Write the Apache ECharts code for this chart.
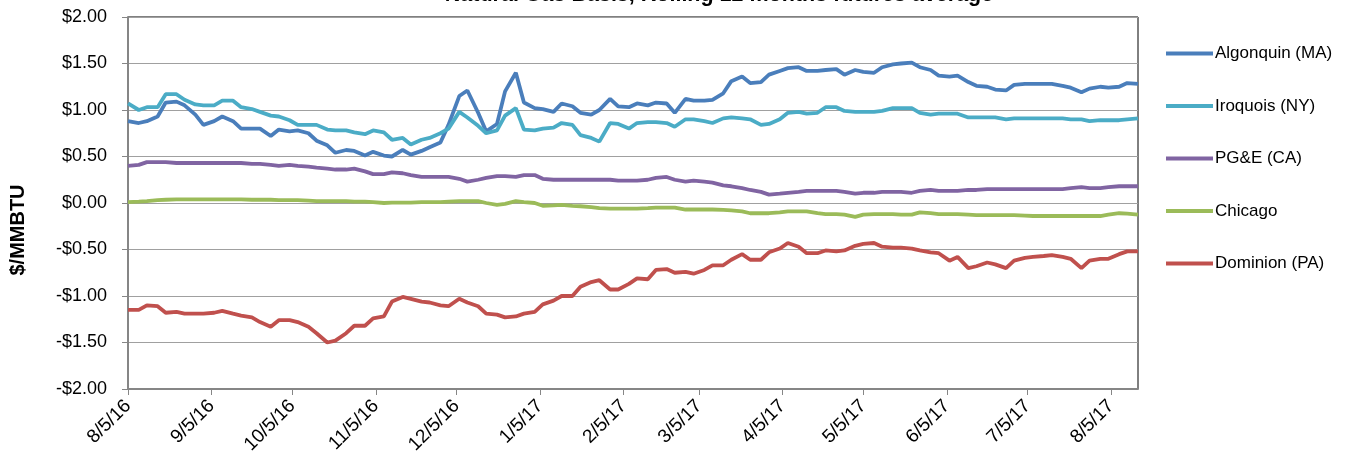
<!DOCTYPE html>
<html>
<head>
<meta charset="utf-8">
<script src="https://cdn.jsdelivr.net/npm/echarts@6/dist/echarts.min.js"></script>
<style>
html,body{margin:0;padding:0;background:#fff;}
#chart{width:1367px;height:467px;}
</style>
</head>
<body>
<div id="chart"></div>
<script>
const dates = [
'2016-08-05','2016-08-09','2016-08-12','2016-08-16','2016-08-19','2016-08-23','2016-08-26','2016-08-30',
'2016-09-02','2016-09-06','2016-09-09','2016-09-13','2016-09-16','2016-09-20','2016-09-23','2016-09-27','2016-09-30',
'2016-10-04','2016-10-07','2016-10-11','2016-10-14','2016-10-18','2016-10-21','2016-10-25','2016-10-28',
'2016-11-01','2016-11-04','2016-11-08','2016-11-11','2016-11-15','2016-11-18','2016-11-22','2016-11-25','2016-11-29',
'2016-12-02','2016-12-06','2016-12-09','2016-12-13','2016-12-16','2016-12-20','2016-12-23','2016-12-27','2016-12-30',
'2017-01-03','2017-01-06','2017-01-10','2017-01-13','2017-01-17','2017-01-20','2017-01-24','2017-01-27','2017-01-31',
'2017-02-03','2017-02-07','2017-02-10','2017-02-14','2017-02-17','2017-02-21','2017-02-24','2017-02-28',
'2017-03-03','2017-03-07','2017-03-10','2017-03-14','2017-03-17','2017-03-21','2017-03-24','2017-03-28','2017-03-31',
'2017-04-04','2017-04-07','2017-04-11','2017-04-14','2017-04-18','2017-04-21','2017-04-25','2017-04-28',
'2017-05-02','2017-05-05','2017-05-09','2017-05-12','2017-05-16','2017-05-19','2017-05-23','2017-05-26','2017-05-30',
'2017-06-02','2017-06-06','2017-06-09','2017-06-13','2017-06-16','2017-06-20','2017-06-23','2017-06-27','2017-06-30',
'2017-07-04','2017-07-07','2017-07-11','2017-07-14','2017-07-18','2017-07-21','2017-07-25','2017-07-28',
'2017-08-01','2017-08-04','2017-08-08','2017-08-11','2017-08-15'
];

const algonquin = [
0.88,0.86,0.88,0.93,1.08,1.09,1.05,0.95,
0.84,0.88,0.93,0.88,0.80,0.80,0.80,0.72,0.79,
0.77,0.78,0.75,0.67,0.62,0.54,0.57,0.56,
0.51,0.55,0.51,0.50,0.57,0.52,0.56,0.60,0.65,
0.84,1.15,1.21,0.97,0.77,0.85,1.20,1.40,1.08,
1.02,1.01,0.98,1.07,1.04,0.97,0.95,1.00,1.12,
1.04,1.03,1.07,1.05,1.08,1.07,0.97,1.12,
1.10,1.10,1.11,1.18,1.31,1.36,1.29,1.30,1.38,
1.42,1.45,1.46,1.42,1.42,1.43,1.44,1.38,
1.43,1.41,1.40,1.46,1.49,1.50,1.51,1.46,1.43,
1.37,1.36,1.37,1.30,1.26,1.25,1.22,1.21,1.27,
1.28,1.28,1.28,1.28,1.26,1.24,1.19,1.23,
1.25,1.24,1.25,1.29,1.28
];

const iroquois = [
1.07,1.00,1.03,1.03,1.17,1.17,1.11,1.06,
1.05,1.05,1.10,1.10,1.03,1.01,0.98,0.94,0.93,
0.89,0.84,0.84,0.84,0.79,0.78,0.78,0.76,
0.74,0.78,0.76,0.68,0.70,0.63,0.68,0.70,0.75,
0.80,0.98,0.92,0.83,0.75,0.78,0.94,1.02,0.79,
0.78,0.80,0.81,0.86,0.84,0.73,0.70,0.66,0.86,
0.85,0.80,0.86,0.87,0.87,0.86,0.82,0.90,
0.90,0.88,0.86,0.91,0.92,0.91,0.90,0.84,0.85,
0.90,0.97,0.98,0.96,0.97,1.03,1.03,0.99,
0.98,0.98,0.98,0.99,1.02,1.02,1.02,0.97,0.95,
0.96,0.96,0.96,0.92,0.92,0.92,0.92,0.90,0.91,
0.91,0.91,0.91,0.91,0.91,0.90,0.90,0.88,
0.89,0.89,0.89,0.90,0.91
];

const pge = [
0.40,0.41,0.44,0.44,0.44,0.43,0.43,0.43,
0.43,0.43,0.43,0.43,0.43,0.42,0.42,0.41,0.40,
0.41,0.40,0.39,0.38,0.37,0.36,0.36,0.37,
0.34,0.31,0.31,0.33,0.32,0.30,0.28,0.28,0.28,
0.28,0.26,0.23,0.25,0.27,0.29,0.29,0.28,0.30,
0.30,0.26,0.25,0.25,0.25,0.25,0.25,0.25,0.25,
0.24,0.24,0.24,0.25,0.27,0.28,0.25,0.23,
0.24,0.23,0.22,0.19,0.18,0.16,0.14,0.12,0.09,
0.10,0.11,0.12,0.13,0.13,0.13,0.13,0.12,
0.10,0.11,0.11,0.12,0.12,0.12,0.11,0.13,0.14,
0.13,0.13,0.13,0.14,0.14,0.15,0.15,0.15,0.15,
0.15,0.15,0.15,0.15,0.15,0.16,0.17,0.16,
0.16,0.17,0.18,0.18,0.18
];

const chicago = [
0.01,0.015,0.02,0.03,0.035,0.04,0.04,0.04,
0.04,0.04,0.04,0.04,0.04,0.035,0.035,0.035,0.03,
0.03,0.03,0.025,0.02,0.02,0.02,0.02,0.015,
0.015,0.01,0.0,0.005,0.005,0.005,0.01,0.01,0.01,
0.015,0.02,0.02,0.02,0.0,-0.02,-0.01,0.02,0.01,
0.0,-0.03,-0.025,-0.02,-0.03,-0.035,-0.045,-0.055,-0.06,
-0.06,-0.06,-0.06,-0.055,-0.05,-0.05,-0.05,-0.07,
-0.07,-0.07,-0.07,-0.075,-0.08,-0.09,-0.11,-0.11,-0.11,
-0.10,-0.09,-0.09,-0.09,-0.11,-0.12,-0.12,-0.125,
-0.15,-0.125,-0.12,-0.12,-0.12,-0.125,-0.125,-0.10,-0.11,
-0.12,-0.12,-0.12,-0.125,-0.13,-0.13,-0.13,-0.13,-0.13,
-0.135,-0.14,-0.14,-0.14,-0.14,-0.14,-0.14,-0.14,
-0.14,-0.125,-0.11,-0.115,-0.125
];

const dominion = [
-1.15,-1.15,-1.10,-1.11,-1.18,-1.17,-1.19,-1.19,
-1.19,-1.18,-1.16,-1.19,-1.21,-1.23,-1.28,-1.33,-1.26,
-1.26,-1.28,-1.33,-1.40,-1.50,-1.48,-1.40,-1.32,
-1.32,-1.24,-1.22,-1.06,-1.01,-1.03,-1.06,-1.07,-1.10,
-1.11,-1.03,-1.07,-1.11,-1.19,-1.20,-1.23,-1.22,-1.19,
-1.17,-1.09,-1.05,-1.00,-1.00,-0.90,-0.85,-0.83,-0.93,
-0.93,-0.87,-0.81,-0.82,-0.72,-0.71,-0.75,-0.74,
-0.76,-0.72,-0.67,-0.67,-0.61,-0.55,-0.61,-0.61,-0.53,
-0.49,-0.43,-0.47,-0.54,-0.54,-0.51,-0.52,-0.51,
-0.46,-0.44,-0.43,-0.47,-0.48,-0.48,-0.49,-0.51,-0.53,
-0.54,-0.62,-0.58,-0.70,-0.68,-0.64,-0.66,-0.70,-0.62,
-0.59,-0.58,-0.57,-0.56,-0.58,-0.60,-0.70,-0.62,
-0.60,-0.60,-0.55,-0.52,-0.52
];

const seriesNames = ['Algonquin (MA)','Iroquois (NY)','PG&E (CA)','Chicago','Dominion (PA)'];
const seriesColors = ['#4a7ebb','#4bacc6','#8064a2','#9bbb59','#c0504d'];
const seriesValues = [algonquin, iroquois, pge, chicago, dominion];

const titleText = 'Natural Gas Basis, Rolling 12 months futures average';
const yAxisTitle = '$/MMBTU';
const tickDates = ['2016-08-05','2016-09-05','2016-10-05','2016-11-05','2016-12-05','2017-01-05','2017-02-05',
'2017-03-05','2017-04-05','2017-05-05','2017-06-05','2017-07-05','2017-08-05'];
const axisStart = '2016-08-05';
const axisEnd = '2017-08-15';

function ts(s){ const p = s.split('-'); return Date.UTC(+p[0], +p[1]-1, +p[2]); }
const tickTs = tickDates.map(ts);

const font = "'Liberation Sans', Arial, sans-serif";
const chart = echarts.init(document.getElementById('chart'), null, {renderer:'canvas'});
chart.setOption({
  animation:false,
  backgroundColor:'#fff',
  title:{text:titleText, left:714, textAlign:'center', top:-21,
    textStyle:{fontFamily:font, fontWeight:'bold', fontSize:21.5, color:'#000'}},
  grid:{left:128, right:229, top:17, bottom:78, show:true, borderColor:'#000', borderWidth:1},
  legend:{orient:'vertical', left:1161, top:40, itemGap:35.5, itemWidth:47, itemHeight:4, icon:'rect',
    textStyle:{fontFamily:font, fontSize:17, color:'#000', padding:[0,0,0,-3]},
    data:seriesNames},
  graphic:[{type:'text', x:8, y:230, rotation:Math.PI/2,
    style:{text:yAxisTitle, fontFamily:font, fontWeight:'bold', fontSize:20, fill:'#000', align:'center', verticalAlign:'top'}}],
  xAxis:{type:'value', min:ts(axisStart), max:ts(axisEnd),
    axisLine:{show:true, onZero:false, lineStyle:{color:'#868686', width:2}},
    axisTick:{show:true, customValues:tickTs, length:6, lineStyle:{color:'#868686'}},
    splitLine:{show:false},
    axisLabel:{customValues:tickTs, rotate:45, margin:14, fontFamily:font, fontSize:19, color:'#000',
      formatter:function(v){const d=new Date(v); return (d.getUTCMonth()+1)+'/'+d.getUTCDate()+'/'+String(d.getUTCFullYear()).slice(2);}}},
  yAxis:{type:'value', min:-2, max:2, interval:0.5,
    axisLine:{show:true, lineStyle:{color:'#868686', width:2}},
    axisTick:{show:true, length:6, lineStyle:{color:'#868686'}},
    splitLine:{lineStyle:{color:'#a0a0a0', width:1}},
    axisLabel:{margin:21, fontFamily:font, fontSize:18, color:'#000',
      formatter:function(v){return (v<0?'-$':'$')+Math.abs(v).toFixed(2);}}},
  series: seriesNames.map((n,i)=>({
    name:n, type:'line', showSymbol:false, symbol:'none',
    lineStyle:{color:seriesColors[i], width:3.8}, itemStyle:{color:seriesColors[i]},
    data: dates.map((d,j)=>[ts(d), seriesValues[i][j]])
  }))
});
</script>
</body>
</html>
